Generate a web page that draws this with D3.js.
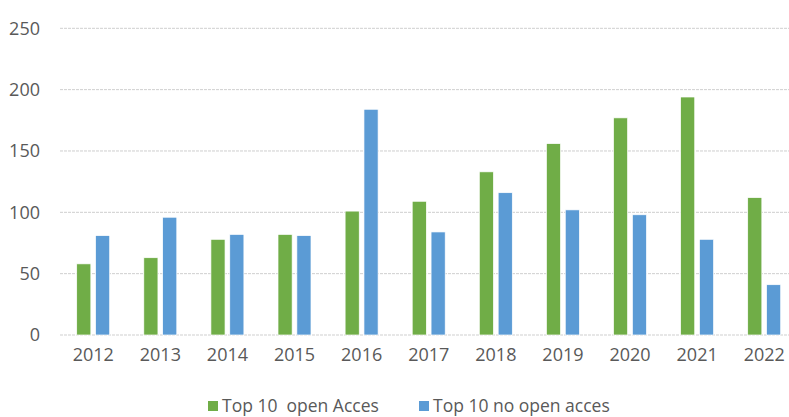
<!DOCTYPE html>
<html>
<head>
<meta charset="utf-8">
<script src="https://cdn.jsdelivr.net/npm/d3@7"></script>
<style>
    body { margin: 0; background: #fff; }
    text { font-family: "Open Sans", "Noto Sans", sans-serif; fill: #595959; }
</style>
</head>
<body>
<div id="chart"></div>
<script>
var years = ["2012", "2013", "2014", "2015", "2016", "2017", "2018", "2019", "2020", "2021", "2022"];
var openAcces = [58, 63, 78, 82, 101, 109, 133, 156, 177, 194, 112];
var noOpenAcces = [81, 96, 82, 81, 184, 84, 116, 102, 98, 78, 41];
var seriesNames = ["Top 10  open Acces", "Top 10 no open acces"];
var yTicks = [0, 50, 100, 150, 200, 250];

var width = 789, height = 417;
var colors = ["#70ad47", "#5b9bd5"];

var svg = d3.select("#chart").append("svg")
    .attr("width", width)
    .attr("height", height);

var x = d3.scaleBand().domain(years).range([59.7, 797.8]);
var x1 = d3.scaleBand().domain([0, 1]).range([17, 50]).paddingInner(0.25);
var y = d3.scaleLinear().domain([0, 250]).range([335, 28.3]);

// gridlines
svg.append("g")
    .selectAll("line")
    .data(yTicks)
    .enter().append("line")
    .attr("x1", 60)
    .attr("x2", width)
    .attr("y1", function(d) { return y(d); })
    .attr("y2", function(d) { return y(d); })
    .attr("stroke", "#cfcfcf")
    .attr("stroke-width", 1)
    .attr("stroke-dasharray", "3,1");

// y axis labels
var yAxis = d3.axisLeft(y).tickValues(yTicks).tickSize(0).tickPadding(0);
svg.append("g")
    .attr("transform", "translate(40,0)")
    .call(yAxis)
    .call(function(g) { g.select(".domain").remove(); })
    .selectAll("text")
    .style("font-size", "18px")
    .attr("fill", "#595959");

// x axis labels
var xAxis = d3.axisBottom(x).tickSize(0).tickPadding(0);
svg.append("g")
    .attr("transform", "translate(0,348)")
    .call(xAxis)
    .call(function(g) { g.select(".domain").remove(); })
    .selectAll("text")
    .style("font-size", "18px")
    .attr("fill", "#595959");

// bars
var rows = years.map(function(yr, i) {
    return { year: yr, values: [openAcces[i], noOpenAcces[i]] };
});

var groups = svg.append("g")
    .selectAll("g")
    .data(rows)
    .enter().append("g")
    .attr("transform", function(d) { return "translate(" + x(d.year) + ",0)"; });

groups.selectAll("rect")
    .data(function(d) { return d.values.map(function(v, k) { return { k: k, v: v }; }); })
    .enter().append("rect")
    .attr("x", function(d) { return x1(d.k); })
    .attr("width", x1.bandwidth())
    .attr("y", function(d) { return y(d.v); })
    .attr("height", function(d) { return y(0) - y(d.v); })
    .attr("fill", function(d) { return colors[d.k]; })
    .attr("stroke", "#ffffff")
    .attr("stroke-width", 0.7);

// legend
var legendX = [208, 419];
var legend = svg.append("g")
    .selectAll("g")
    .data(seriesNames)
    .enter().append("g")
    .attr("transform", function(d, i) { return "translate(" + legendX[i] + ",401)"; });

legend.append("rect")
    .attr("width", 10)
    .attr("height", 10)
    .attr("fill", function(d, i) { return colors[i]; });

legend.append("text")
    .attr("x", 14)
    .attr("y", 5)
    .attr("dy", "0.35em")
    .style("font-size", "17.5px")
    .style("white-space", "pre")
    .attr("xml:space", "preserve")
    .text(function(d) { return d; });
</script>
</body>
</html>
